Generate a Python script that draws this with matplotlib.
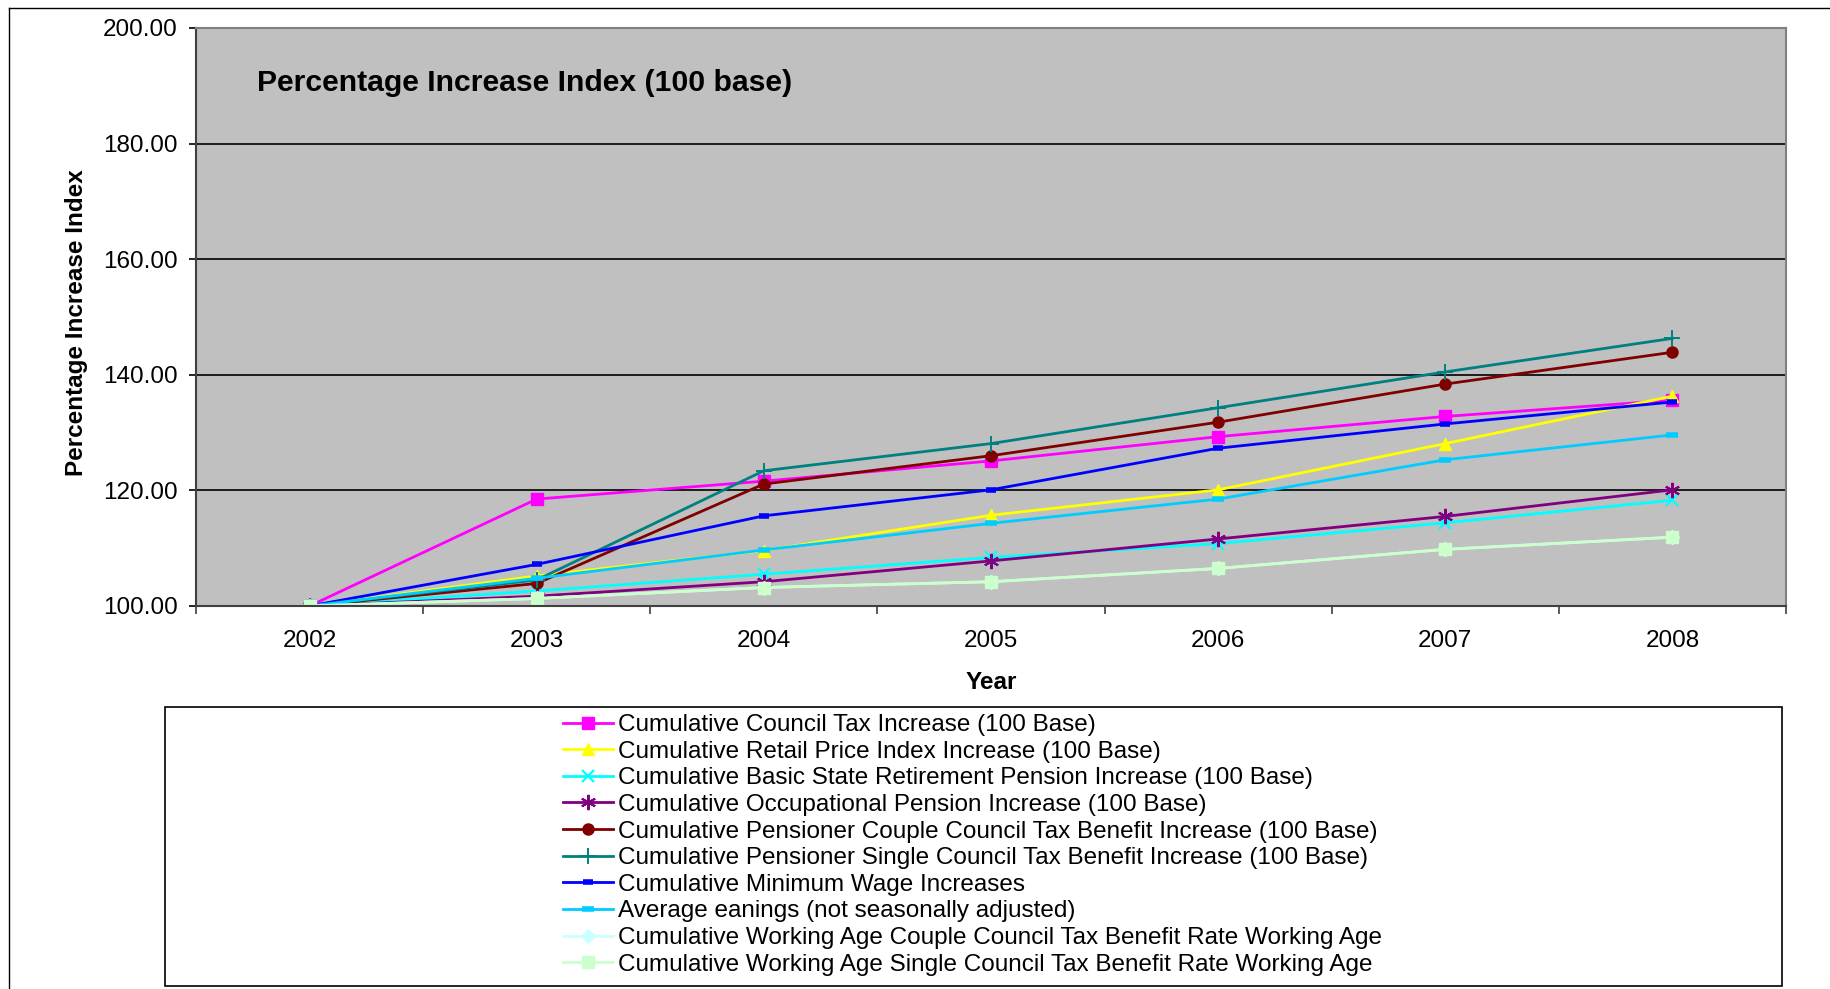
import matplotlib
matplotlib.use('Agg')
import matplotlib.pyplot as plt
from matplotlib.lines import Line2D
from matplotlib.patches import Rectangle
from matplotlib.ticker import FormatStrFormatter, FixedLocator

plt.rcParams['font.family'] = ['Liberation Sans', 'DejaVu Sans']

# les valeurs (indice 100 en 2002)
annees = ['2002', '2003', '2004', '2005', '2006', '2007', '2008']
council_tax = [100, 118.5, 121.6, 125.1, 129.3, 132.8, 135.6]
rpi = [100, 105.2, 109.6, 115.7, 120.1, 128.1, 136.3]
state_pension = [100, 102.6, 105.5, 108.4, 110.8, 114.4, 118.3]
occ_pension = [100, 101.7, 104.2, 107.8, 111.6, 115.5, 120.1]
pens_couple = [100, 103.9, 121.1, 126.0, 131.8, 138.4, 143.9]
pens_single = [100, 104.5, 123.4, 128.1, 134.3, 140.5, 146.3]
min_wage = [100, 107.2, 115.6, 120.1, 127.3, 131.5, 135.3]
avg_earnings = [100, 104.8, 109.7, 114.3, 118.5, 125.3, 129.6]
wa_couple = [100, 101.3, 103.2, 104.2, 106.5, 109.8, 111.9]
wa_single = [100, 101.3, 103.2, 104.2, 106.5, 109.8, 111.9]

labels = ['Cumulative Council Tax Increase (100 Base)',
          'Cumulative Retail Price Index Increase (100 Base)',
          'Cumulative Basic State Retirement Pension Increase (100 Base)',
          'Cumulative Occupational Pension Increase (100 Base)',
          'Cumulative Pensioner Couple Council Tax Benefit Increase (100 Base)',
          'Cumulative Pensioner Single Council Tax Benefit Increase (100 Base)',
          'Cumulative Minimum Wage Increases',
          'Average eanings (not seasonally adjusted)',
          'Cumulative Working Age Couple Council Tax Benefit Rate Working Age',
          'Cumulative Working Age Single Council Tax Benefit Rate Working Age']

series = [council_tax, rpi, state_pension, occ_pension, pens_couple,
          pens_single, min_wage, avg_earnings, wa_couple, wa_single]
couleurs = ['#FF00FF', '#FFFF00', '#00FFFF', '#800080', '#800000',
            '#008080', '#0000FF', '#00CCFF', '#CCFFFF', '#CCFFCC']
# (marqueur, taille, epaisseur du trait du marqueur)
marqueurs = [('s', 8, 1), ('^', 9, 1), ('x', 9, 1.6), ((6, 2, 0), 11, 1.5), ('o', 8, 1),
             ('+', 12, 1.4), ('_', 7, 4), ('_', 9, 4), ('D', 7, 1), ('s', 8, 1)]

fig = plt.figure(figsize=(18.3, 9.89), dpi=100)
ax = fig.add_axes([196/1830, 1-606/989, 1590/1830, 578/989])
ax.set_facecolor('#C0C0C0')

X = list(range(len(annees)))
for y, c, (m, ms, mew), lab in zip(series, couleurs, marqueurs, labels):
    ax.plot(X, y, color=c, lw=2, marker=m, markersize=ms, markeredgewidth=mew,
            markerfacecolor=c, markeredgecolor=c, label=lab)

ax.set_xlim(-0.5, 6.5)
ax.set_ylim(100, 200)
ax.set_yticks([100, 120, 140, 160, 180, 200])
ax.yaxis.set_major_formatter(FormatStrFormatter('%.2f'))
ax.grid(axis='y', color='black', lw=1.2)
ax.set_axisbelow(True)

ax.set_xticks(X)
ax.set_xticklabels(annees)
ax.xaxis.set_minor_locator(FixedLocator([i - 0.5 for i in range(8)]))
ax.tick_params(axis='x', which='major', length=0, pad=17, labelsize=17.5)
ax.tick_params(axis='x', which='minor', length=6, width=1.2, direction='out', color='#404040')
ax.tick_params(axis='y', length=5, width=1.2, pad=8, labelsize=17.5)

for s in ['top', 'right']:
    ax.spines[s].set_color('#808080')
    ax.spines[s].set_linewidth(1.5)
for s in ['left', 'bottom']:
    ax.spines[s].set_color('#404040')
    ax.spines[s].set_linewidth(1.5)

ax.set_xlabel('Year', fontsize=17.5, fontweight='bold', labelpad=14)
ax.set_ylabel('Percentage Increase Index', fontsize=17.5, fontweight='bold')
ax.yaxis.set_label_coords(-0.068, 0.49)
ax.text(0.0384, 0.905, 'Percentage Increase Index (100 base)', transform=ax.transAxes,
        fontsize=21.7, fontweight='bold', va='center', ha='left')

# cadre de la legende et bordure du graphique
fig.patches.append(Rectangle((165/1830, 1-986/989), 1617/1830, 279/989,
                             transform=fig.transFigure, fill=False, ec='black', lw=1.2))
fig.lines.append(Line2D([9/1830, 1], [1-8/989, 1-8/989], transform=fig.transFigure, color='black', lw=1))
fig.lines.append(Line2D([9/1830, 9/1830], [0, 1-8/989], transform=fig.transFigure, color='black', lw=1))

fig.legend(loc='upper left', bbox_to_anchor=(563/1830, 1-714/989), frameon=False,
           fontsize=17.5, handlelength=2.05, handletextpad=0.2, labelspacing=0.19,
           borderpad=0, borderaxespad=0)

fig.savefig('out.png', dpi=100)
